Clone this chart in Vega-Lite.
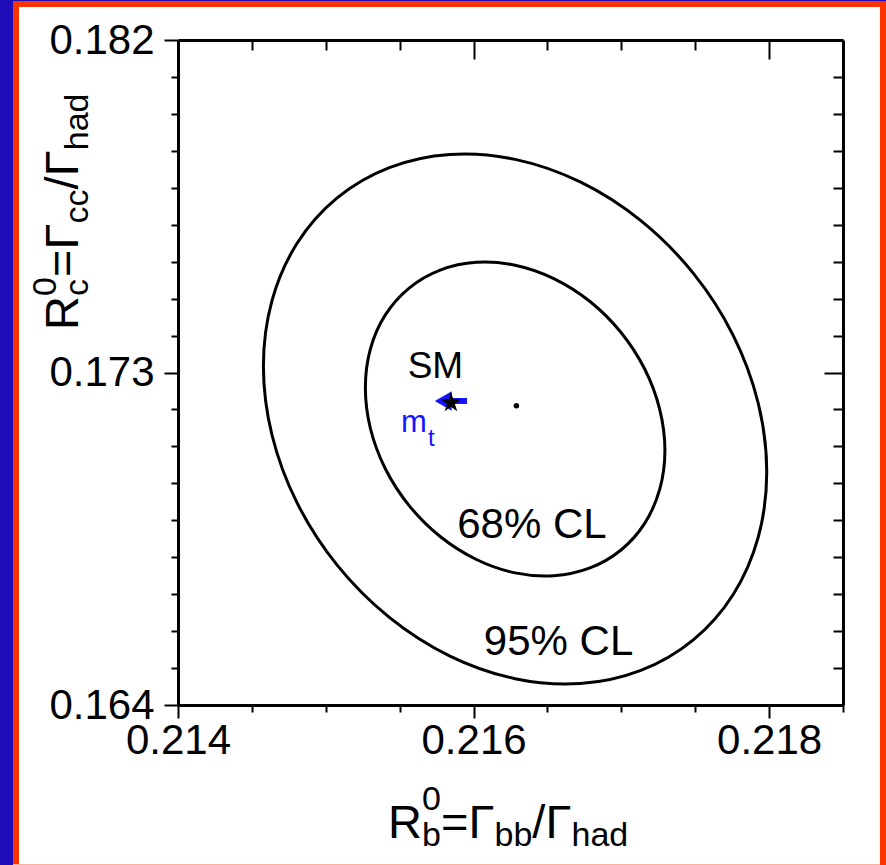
{
  "$schema": "https://vega.github.io/schema/vega-lite/v6.json",
  "width": 665,
  "height": 665,
  "autosize": {"type": "none"},
  "padding": {"left": 178, "top": 40, "right": 43, "bottom": 160},
  "background": "white",
  "config": {
    "view": {"stroke": null},
    "font": "Liberation Sans",
    "axis": {"grid": false, "zindex": 1, "domainColor": "black", "tickColor": "black", "labelColor": "black", "labelFont": "Liberation Sans"}
  },
  "datasets": {
    "inner": [
      {"i": 0, "Rb": 0.217295, "Rc": 0.170891},
      {"i": 1, "Rb": 0.217260, "Rc": 0.171998},
      {"i": 2, "Rb": 0.217159, "Rc": 0.173087},
      {"i": 3, "Rb": 0.216998, "Rc": 0.174084},
      {"i": 4, "Rb": 0.216788, "Rc": 0.174922},
      {"i": 5, "Rb": 0.216543, "Rc": 0.175543},
      {"i": 6, "Rb": 0.216281, "Rc": 0.175905},
      {"i": 7, "Rb": 0.216019, "Rc": 0.175983},
      {"i": 8, "Rb": 0.215774, "Rc": 0.175772},
      {"i": 9, "Rb": 0.215564, "Rc": 0.175286},
      {"i": 10, "Rb": 0.215403, "Rc": 0.174559},
      {"i": 11, "Rb": 0.215302, "Rc": 0.173640},
      {"i": 12, "Rb": 0.215268, "Rc": 0.172591},
      {"i": 13, "Rb": 0.215302, "Rc": 0.171484},
      {"i": 14, "Rb": 0.215403, "Rc": 0.170395},
      {"i": 15, "Rb": 0.215564, "Rc": 0.169398},
      {"i": 16, "Rb": 0.215774, "Rc": 0.168560},
      {"i": 17, "Rb": 0.216019, "Rc": 0.167939},
      {"i": 18, "Rb": 0.216281, "Rc": 0.167577},
      {"i": 19, "Rb": 0.216543, "Rc": 0.167499},
      {"i": 20, "Rb": 0.216788, "Rc": 0.167710},
      {"i": 21, "Rb": 0.216998, "Rc": 0.168196},
      {"i": 22, "Rb": 0.217159, "Rc": 0.168923},
      {"i": 23, "Rb": 0.217260, "Rc": 0.169842}
    ],
    "outer": [
      {"i": 0, "Rb": 0.217984, "Rc": 0.170306},
      {"i": 1, "Rb": 0.217926, "Rc": 0.172174},
      {"i": 2, "Rb": 0.217756, "Rc": 0.174013},
      {"i": 3, "Rb": 0.217485, "Rc": 0.175696},
      {"i": 4, "Rb": 0.217132, "Rc": 0.177110},
      {"i": 5, "Rb": 0.216722, "Rc": 0.178158},
      {"i": 6, "Rb": 0.216281, "Rc": 0.178769},
      {"i": 7, "Rb": 0.215840, "Rc": 0.178901},
      {"i": 8, "Rb": 0.215430, "Rc": 0.178545},
      {"i": 9, "Rb": 0.215077, "Rc": 0.177725},
      {"i": 10, "Rb": 0.214806, "Rc": 0.176497},
      {"i": 11, "Rb": 0.214636, "Rc": 0.174946},
      {"i": 12, "Rb": 0.214578, "Rc": 0.173176},
      {"i": 13, "Rb": 0.214636, "Rc": 0.171308},
      {"i": 14, "Rb": 0.214806, "Rc": 0.169469},
      {"i": 15, "Rb": 0.215077, "Rc": 0.167786},
      {"i": 16, "Rb": 0.215430, "Rc": 0.166372},
      {"i": 17, "Rb": 0.215840, "Rc": 0.165324},
      {"i": 18, "Rb": 0.216281, "Rc": 0.164713},
      {"i": 19, "Rb": 0.216722, "Rc": 0.164581},
      {"i": 20, "Rb": 0.217132, "Rc": 0.164937},
      {"i": 21, "Rb": 0.217485, "Rc": 0.165757},
      {"i": 22, "Rb": 0.217756, "Rc": 0.166985},
      {"i": 23, "Rb": 0.217926, "Rc": 0.168536}
    ],
    "fit": [{"Rb": 0.21629, "Rc": 0.1721}],
    "sm": [{"Rb": 0.215847, "Rc": 0.172183}],
    "one": [{}]
  },
  "resolve": {"axis": {"x": "independent", "y": "independent"}},
  "layer": [
    {
      "data": {"name": "one"},
      "mark": {"type": "rect", "color": "#ff3300"},
      "encoding": {
        "x": {"datum": 0.2128835, "type": "quantitative", "scale": {"domain": [0.214, 0.2185], "nice": false, "zero": false},
          "axis": {"orient": "top", "ticks": false, "labels": false, "domain": true, "domainWidth": 3, "zindex": 1, "title": null}},
        "x2": {"datum": 0.212924},
        "y": {"datum": 0.1833, "type": "quantitative", "scale": {"domain": [0.164, 0.182], "nice": false, "zero": false},
          "axis": {"orient": "right", "ticks": false, "labels": false, "domain": true, "domainWidth": 3, "zindex": 1, "title": null}},
        "y2": {"datum": 0.1595}
      }
    },
    {
      "data": {"name": "one"},
      "mark": {"type": "rect", "color": "#ff3300"},
      "encoding": {
        "x": {"datum": 0.2128835, "type": "quantitative", "scale": {"domain": [0.214, 0.2185], "nice": false, "zero": false}, "axis": null},
        "x2": {"datum": 0.2189},
        "y": {"datum": 0.183056, "type": "quantitative", "scale": {"domain": [0.164, 0.182], "nice": false, "zero": false}, "axis": null},
        "y2": {"datum": 0.182893}
      }
    },
    {
      "data": {"name": "one"},
      "mark": {"type": "rect", "color": "#ff3300"},
      "encoding": {
        "x": {"datum": 0.21875, "type": "quantitative", "scale": {"domain": [0.214, 0.2185], "nice": false, "zero": false}, "axis": null},
        "x2": {"datum": 0.2189},
        "y": {"datum": 0.183056, "type": "quantitative", "scale": {"domain": [0.164, 0.182], "nice": false, "zero": false}, "axis": null},
        "y2": {"datum": 0.1595}
      }
    },
    {
      "data": {"name": "one"},
      "mark": {"type": "rect", "color": "#ffb09a"},
      "encoding": {
        "x": {"datum": 0.2128835, "type": "quantitative", "scale": {"domain": [0.214, 0.2185], "nice": false, "zero": false}, "axis": null},
        "x2": {"datum": 0.21875},
        "y": {"datum": 0.159696, "type": "quantitative", "scale": {"domain": [0.164, 0.182], "nice": false, "zero": false}, "axis": null},
        "y2": {"datum": 0.1595}
      }
    },
    {
      "data": {"name": "one"},
      "mark": {"type": "rect", "color": "#200cb8"},
      "encoding": {
        "x": {"datum": 0.2127, "type": "quantitative", "scale": {"domain": [0.214, 0.2185], "nice": false, "zero": false}, "axis": null},
        "x2": {"datum": 0.2128835},
        "y": {"datum": 0.1833, "type": "quantitative", "scale": {"domain": [0.164, 0.182], "nice": false, "zero": false}, "axis": null},
        "y2": {"datum": 0.1595}
      }
    },
    {
      "data": {"name": "one"},
      "mark": {"type": "rect", "color": "#200cb8"},
      "encoding": {
        "x": {"datum": 0.2127, "type": "quantitative", "scale": {"domain": [0.214, 0.2185], "nice": false, "zero": false}, "axis": null},
        "x2": {"datum": 0.2189},
        "y": {"datum": 0.1833, "type": "quantitative", "scale": {"domain": [0.164, 0.182], "nice": false, "zero": false}, "axis": null},
        "y2": {"datum": 0.183056}
      }
    },
    {
      "data": {"name": "inner"},
      "mark": {"type": "line", "interpolate": "cardinal-closed", "color": "black", "strokeWidth": 3},
      "encoding": {
        "x": {"field": "Rb", "type": "quantitative", "scale": {"domain": [0.214, 0.2185], "nice": false, "zero": false},
          "axis": {"orient": "bottom", "values": [0.214, 0.216, 0.218], "format": ".3f", "tickSize": 13, "tickWidth": 2, "domain": true, "domainWidth": 3, "zindex": 1, "labelFontSize": 42, "labelPadding": 2, "labelFlush": false, "labelOverlap": false, "title": null}},
        "y": {"field": "Rc", "type": "quantitative", "scale": {"domain": [0.164, 0.182], "nice": false, "zero": false},
          "axis": {"orient": "left", "values": [0.164, 0.173, 0.182], "format": ".3f", "tickSize": 14, "tickWidth": 2, "domain": true, "domainWidth": 3, "zindex": 1, "labelFontSize": 42, "labelPadding": 10, "labelFlush": false, "labelOverlap": false, "title": null}},
        "order": {"field": "i"}
      }
    },
    {
      "data": {"name": "outer"},
      "mark": {"type": "line", "interpolate": "cardinal-closed", "color": "black", "strokeWidth": 3},
      "encoding": {
        "x": {"field": "Rb", "type": "quantitative", "scale": {"domain": [0.214, 0.2185], "nice": false, "zero": false},
          "axis": {"orient": "bottom", "values": [0.2145, 0.215, 0.2155, 0.2165, 0.217, 0.2175, 0.2185], "tickSize": 7, "tickWidth": 2, "domain": false, "labels": false, "zindex": 1, "title": null}},
        "y": {"field": "Rc", "type": "quantitative", "scale": {"domain": [0.164, 0.182], "nice": false, "zero": false},
          "axis": {"orient": "left", "values": [0.165, 0.166, 0.167, 0.168, 0.169, 0.17, 0.171, 0.172, 0.174, 0.175, 0.176, 0.177, 0.178, 0.179, 0.18, 0.181], "tickSize": 7, "tickWidth": 2, "domain": false, "labels": false, "zindex": 1, "title": null}},
        "order": {"field": "i"}
      }
    },
    {
      "data": {"name": "fit"},
      "mark": {"type": "point", "filled": true, "color": "black", "size": 30, "opacity": 1},
      "encoding": {
        "x": {"field": "Rb", "type": "quantitative", "scale": {"domain": [0.214, 0.2185], "nice": false, "zero": false},
          "axis": {"orient": "top", "offset": -19, "values": [0.214, 0.216, 0.218], "tickSize": 19, "tickWidth": 2, "domain": false, "labels": false, "zindex": 1, "title": null}},
        "y": {"field": "Rc", "type": "quantitative", "scale": {"domain": [0.164, 0.182], "nice": false, "zero": false},
          "axis": {"orient": "right", "offset": -19, "values": [0.164, 0.173, 0.182], "tickSize": 19, "tickWidth": 2, "domain": false, "labels": false, "zindex": 1, "title": null}}
      }
    },
    {
      "data": {"name": "one"},
      "mark": {"type": "rule", "color": "#1414ff", "strokeWidth": 6},
      "encoding": {
        "x": {"datum": 0.21578, "type": "quantitative", "scale": {"domain": [0.214, 0.2185], "nice": false, "zero": false}, "axis": null},
        "x2": {"datum": 0.215956},
        "y": {"datum": 0.172229, "type": "quantitative", "scale": {"domain": [0.164, 0.182], "nice": false, "zero": false}, "axis": null}
      }
    },
    {
      "data": {"name": "one"},
      "mark": {"type": "point", "shape": "triangle-left", "filled": true, "color": "#1414ff", "size": 380, "opacity": 1},
      "encoding": {
        "x": {"datum": 0.215795, "type": "quantitative", "scale": {"domain": [0.214, 0.2185], "nice": false, "zero": false}, "axis": null},
        "y": {"datum": 0.172229, "type": "quantitative", "scale": {"domain": [0.164, 0.182], "nice": false, "zero": false}, "axis": null}
      }
    },
    {
      "data": {"name": "sm"},
      "mark": {"type": "point", "filled": true, "color": "black", "size": 460, "opacity": 1,
        "shape": "M0,-1L0.2245,-0.309L0.951,-0.309L0.363,0.118L0.588,0.809L0,0.382L-0.588,0.809L-0.363,0.118L-0.951,-0.309L-0.2245,-0.309Z"},
      "encoding": {
        "x": {"field": "Rb", "type": "quantitative", "scale": {"domain": [0.214, 0.2185], "nice": false, "zero": false},
          "axis": {"orient": "top", "offset": -10, "values": [0.2145, 0.215, 0.2155, 0.2165, 0.217, 0.2175], "tickSize": 10, "tickWidth": 2, "domain": false, "labels": false, "zindex": 1, "title": null}},
        "y": {"field": "Rc", "type": "quantitative", "scale": {"domain": [0.164, 0.182], "nice": false, "zero": false},
          "axis": {"orient": "right", "offset": -10, "values": [0.165, 0.166, 0.167, 0.168, 0.169, 0.17, 0.171, 0.172, 0.174, 0.175, 0.176, 0.177, 0.178, 0.179, 0.18, 0.181], "tickSize": 10, "tickWidth": 2, "domain": false, "labels": false, "zindex": 1, "title": null}}
      }
    },
    {
      "data": {"name": "one"},
      "mark": {"type": "text", "text": "SM", "fontSize": 37, "align": "center", "baseline": "alphabetic", "color": "black"},
      "encoding": {
        "x": {"datum": 0.215742, "type": "quantitative", "scale": {"domain": [0.214, 0.2185], "nice": false, "zero": false}, "axis": null},
        "y": {"datum": 0.172851, "type": "quantitative", "scale": {"domain": [0.164, 0.182], "nice": false, "zero": false}, "axis": null}
      }
    },
    {
      "data": {"name": "one"},
      "mark": {"type": "text", "text": "m", "fontSize": 31, "align": "left", "baseline": "alphabetic", "color": "#1414ff"},
      "encoding": {
        "x": {"datum": 0.215509, "type": "quantitative", "scale": {"domain": [0.214, 0.2185], "nice": false, "zero": false}, "axis": null},
        "y": {"datum": 0.171389, "type": "quantitative", "scale": {"domain": [0.164, 0.182], "nice": false, "zero": false}, "axis": null}
      }
    },
    {
      "data": {"name": "one"},
      "mark": {"type": "text", "text": "t", "fontSize": 24, "align": "left", "baseline": "alphabetic", "color": "#1414ff"},
      "encoding": {
        "x": {"datum": 0.215692, "type": "quantitative", "scale": {"domain": [0.214, 0.2185], "nice": false, "zero": false}, "axis": null},
        "y": {"datum": 0.171011, "type": "quantitative", "scale": {"domain": [0.164, 0.182], "nice": false, "zero": false}, "axis": null}
      }
    },
    {
      "data": {"name": "one"},
      "mark": {"type": "text", "text": "68% CL", "fontSize": 42, "align": "center", "baseline": "alphabetic", "color": "black"},
      "encoding": {
        "x": {"datum": 0.216395, "type": "quantitative", "scale": {"domain": [0.214, 0.2185], "nice": false, "zero": false}, "axis": null},
        "y": {"datum": 0.16852, "type": "quantitative", "scale": {"domain": [0.164, 0.182], "nice": false, "zero": false}, "axis": null}
      }
    },
    {
      "data": {"name": "one"},
      "mark": {"type": "text", "text": "95% CL", "fontSize": 42, "align": "center", "baseline": "alphabetic", "color": "black"},
      "encoding": {
        "x": {"datum": 0.216575, "type": "quantitative", "scale": {"domain": [0.214, 0.2185], "nice": false, "zero": false}, "axis": null},
        "y": {"datum": 0.165353, "type": "quantitative", "scale": {"domain": [0.164, 0.182], "nice": false, "zero": false}, "axis": null}
      }
    },
    {
      "data": {"name": "one"},
      "mark": {"type": "text", "text": "R", "fontSize": 47, "align": "left", "baseline": "alphabetic", "color": "black"},
      "encoding": {
        "x": {"datum": 0.215421, "type": "quantitative", "scale": {"domain": [0.214, 0.2185], "nice": false, "zero": false}, "axis": null},
        "y": {"datum": 0.1604, "type": "quantitative", "scale": {"domain": [0.164, 0.182], "nice": false, "zero": false}, "axis": null}
      }
    },
    {
      "data": {"name": "one"},
      "mark": {"type": "text", "text": "0", "fontSize": 34, "align": "left", "baseline": "alphabetic", "color": "black"},
      "encoding": {
        "x": {"datum": 0.215651, "type": "quantitative", "scale": {"domain": [0.214, 0.2185], "nice": false, "zero": false}, "axis": null},
        "y": {"datum": 0.161158, "type": "quantitative", "scale": {"domain": [0.164, 0.182], "nice": false, "zero": false}, "axis": null}
      }
    },
    {
      "data": {"name": "one"},
      "mark": {"type": "text", "text": "b", "fontSize": 34, "align": "left", "baseline": "alphabetic", "color": "black"},
      "encoding": {
        "x": {"datum": 0.215651, "type": "quantitative", "scale": {"domain": [0.214, 0.2185], "nice": false, "zero": false}, "axis": null},
        "y": {"datum": 0.160183, "type": "quantitative", "scale": {"domain": [0.164, 0.182], "nice": false, "zero": false}, "axis": null}
      }
    },
    {
      "data": {"name": "one"},
      "mark": {"type": "text", "text": "=Γ", "fontSize": 47, "align": "left", "baseline": "alphabetic", "color": "black"},
      "encoding": {
        "x": {"datum": 0.21578, "type": "quantitative", "scale": {"domain": [0.214, 0.2185], "nice": false, "zero": false}, "axis": null},
        "y": {"datum": 0.1604, "type": "quantitative", "scale": {"domain": [0.164, 0.182], "nice": false, "zero": false}, "axis": null}
      }
    },
    {
      "data": {"name": "one"},
      "mark": {"type": "text", "text": "bb", "fontSize": 34, "align": "left", "baseline": "alphabetic", "color": "black"},
      "encoding": {
        "x": {"datum": 0.216142, "type": "quantitative", "scale": {"domain": [0.214, 0.2185], "nice": false, "zero": false}, "axis": null},
        "y": {"datum": 0.160183, "type": "quantitative", "scale": {"domain": [0.164, 0.182], "nice": false, "zero": false}, "axis": null}
      }
    },
    {
      "data": {"name": "one"},
      "mark": {"type": "text", "text": "/Γ", "fontSize": 47, "align": "left", "baseline": "alphabetic", "color": "black"},
      "encoding": {
        "x": {"datum": 0.216398, "type": "quantitative", "scale": {"domain": [0.214, 0.2185], "nice": false, "zero": false}, "axis": null},
        "y": {"datum": 0.1604, "type": "quantitative", "scale": {"domain": [0.164, 0.182], "nice": false, "zero": false}, "axis": null}
      }
    },
    {
      "data": {"name": "one"},
      "mark": {"type": "text", "text": "had", "fontSize": 34, "align": "left", "baseline": "alphabetic", "color": "black"},
      "encoding": {
        "x": {"datum": 0.216663, "type": "quantitative", "scale": {"domain": [0.214, 0.2185], "nice": false, "zero": false}, "axis": null},
        "y": {"datum": 0.160183, "type": "quantitative", "scale": {"domain": [0.164, 0.182], "nice": false, "zero": false}, "axis": null}
      }
    },
    {
      "data": {"name": "one"},
      "mark": {"type": "text", "text": "R", "fontSize": 47, "angle": 270, "align": "left", "baseline": "alphabetic", "color": "black"},
      "encoding": {
        "x": {"datum": 0.213323, "type": "quantitative", "scale": {"domain": [0.214, 0.2185], "nice": false, "zero": false}, "axis": null},
        "y": {"datum": 0.17415, "type": "quantitative", "scale": {"domain": [0.164, 0.182], "nice": false, "zero": false}, "axis": null}
      }
    },
    {
      "data": {"name": "one"},
      "mark": {"type": "text", "text": "0", "fontSize": 34, "angle": 270, "align": "left", "baseline": "alphabetic", "color": "black"},
      "encoding": {
        "x": {"datum": 0.213174, "type": "quantitative", "scale": {"domain": [0.214, 0.2185], "nice": false, "zero": false}, "axis": null},
        "y": {"datum": 0.175071, "type": "quantitative", "scale": {"domain": [0.164, 0.182], "nice": false, "zero": false}, "axis": null}
      }
    },
    {
      "data": {"name": "one"},
      "mark": {"type": "text", "text": "c", "fontSize": 34, "angle": 270, "align": "left", "baseline": "alphabetic", "color": "black"},
      "encoding": {
        "x": {"datum": 0.213391, "type": "quantitative", "scale": {"domain": [0.214, 0.2185], "nice": false, "zero": false}, "axis": null},
        "y": {"datum": 0.175071, "type": "quantitative", "scale": {"domain": [0.164, 0.182], "nice": false, "zero": false}, "axis": null}
      }
    },
    {
      "data": {"name": "one"},
      "mark": {"type": "text", "text": "=Γ", "fontSize": 47, "angle": 270, "align": "left", "baseline": "alphabetic", "color": "black"},
      "encoding": {
        "x": {"datum": 0.213323, "type": "quantitative", "scale": {"domain": [0.214, 0.2185], "nice": false, "zero": false}, "axis": null},
        "y": {"datum": 0.175585, "type": "quantitative", "scale": {"domain": [0.164, 0.182], "nice": false, "zero": false}, "axis": null}
      }
    },
    {
      "data": {"name": "one"},
      "mark": {"type": "text", "text": "cc", "fontSize": 34, "angle": 270, "align": "left", "baseline": "alphabetic", "color": "black"},
      "encoding": {
        "x": {"datum": 0.213391, "type": "quantitative", "scale": {"domain": [0.214, 0.2185], "nice": false, "zero": false}, "axis": null},
        "y": {"datum": 0.177036, "type": "quantitative", "scale": {"domain": [0.164, 0.182], "nice": false, "zero": false}, "axis": null}
      }
    },
    {
      "data": {"name": "one"},
      "mark": {"type": "text", "text": "/Γ", "fontSize": 47, "angle": 270, "align": "left", "baseline": "alphabetic", "color": "black"},
      "encoding": {
        "x": {"datum": 0.213323, "type": "quantitative", "scale": {"domain": [0.214, 0.2185], "nice": false, "zero": false}, "axis": null},
        "y": {"datum": 0.177956, "type": "quantitative", "scale": {"domain": [0.164, 0.182], "nice": false, "zero": false}, "axis": null}
      }
    },
    {
      "data": {"name": "one"},
      "mark": {"type": "text", "text": "had", "fontSize": 34, "angle": 270, "align": "left", "baseline": "alphabetic", "color": "black"},
      "encoding": {
        "x": {"datum": 0.213391, "type": "quantitative", "scale": {"domain": [0.214, 0.2185], "nice": false, "zero": false}, "axis": null},
        "y": {"datum": 0.179017, "type": "quantitative", "scale": {"domain": [0.164, 0.182], "nice": false, "zero": false}, "axis": null}
      }
    }
  ]
}
